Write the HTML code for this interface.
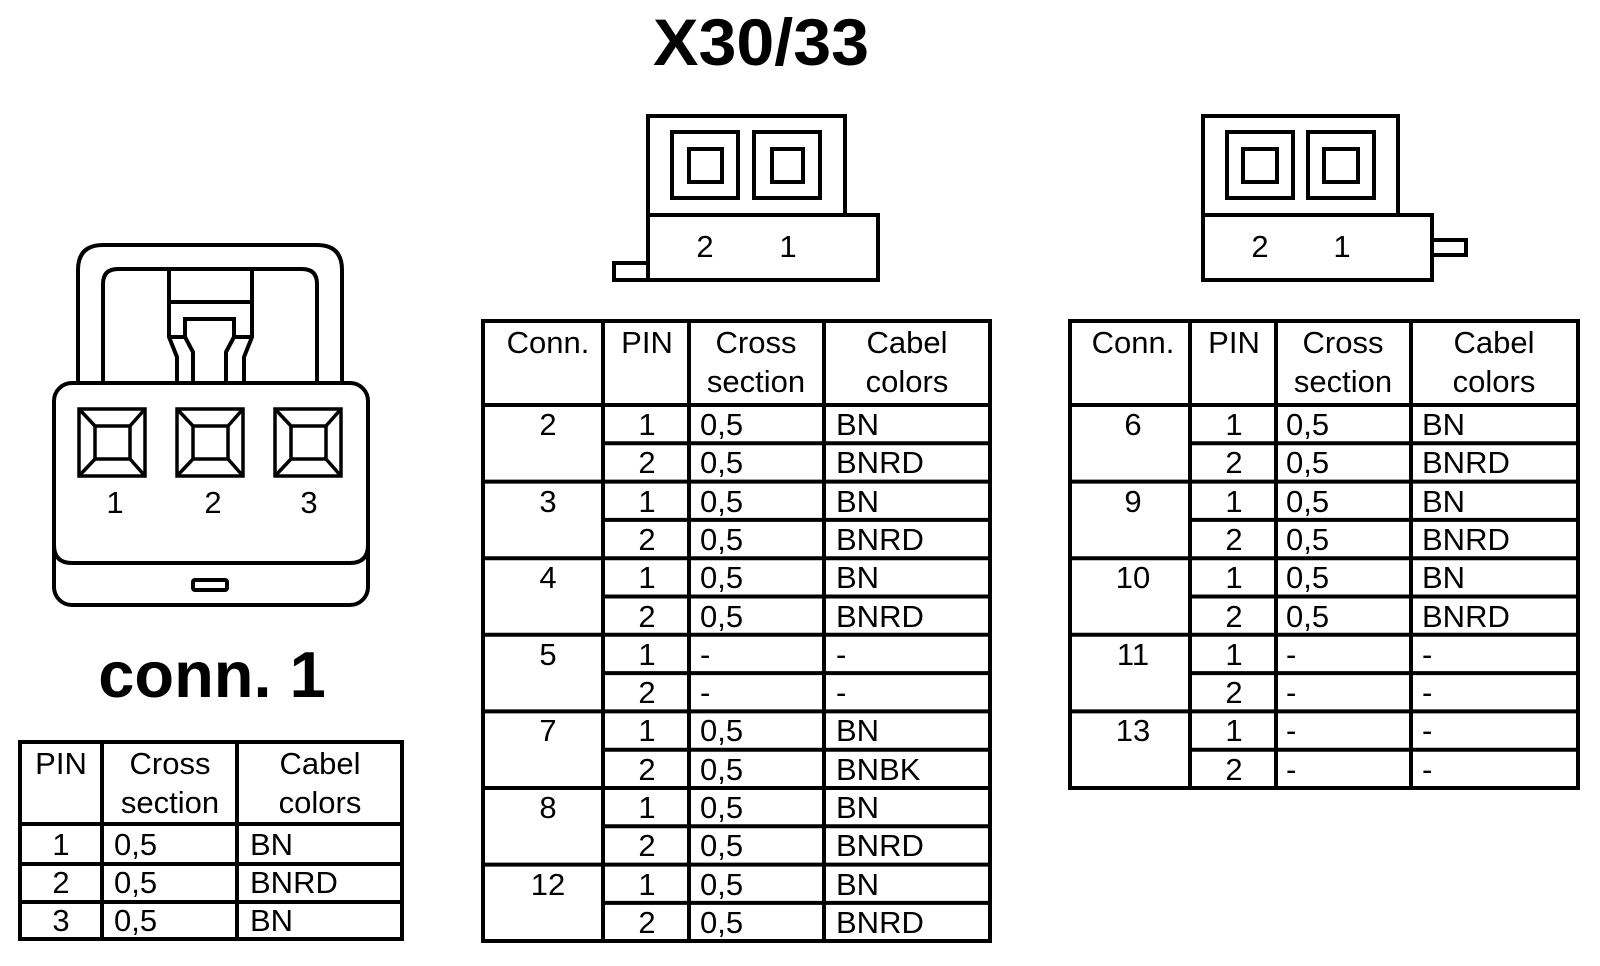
<!DOCTYPE html>
<html><head><meta charset="utf-8"><style>
html,body{margin:0;padding:0;background:#fff;}
svg{display:block;}
text{font-family:"Liberation Sans",Arial,sans-serif;fill:#000;}
.t{font-size:31px;}
.m{text-anchor:middle;}
.b{font-weight:bold;}
</style></head><body>
<svg width="1600" height="966" viewBox="0 0 1600 966" xmlns="http://www.w3.org/2000/svg">
<g fill="none" stroke="#000" stroke-width="4">
<path d="M78 383 V270 Q78 245 103 245 H317 Q342 245 342 270 V383"/>
<path d="M103 383 V284 Q103 269 118 269 H302 Q317 269 317 284 V383"/>
<path d="M169 269 V337 L177 357 V383 M252 269 V337 L244 357 V383 M169 302 H252 M169 337 H185 M234 337 H252"/>
<path d="M185 337 V319 H234 V337 M185 337 L193 352 V383 M234 337 L226 352 V383"/>
<rect x="54" y="383" width="314" height="222" rx="18"/>
<path d="M54 545 Q54 563 72 563 H350 Q368 563 368 545"/>
<rect x="193" y="580" width="34" height="10" rx="2"/>
<g stroke-width="3.5">
<rect x="79" y="409" width="66" height="67"/><rect x="95" y="426" width="35" height="33"/>
<path d="M79 409 L95 426 M145 409 L130 426 M79 476 L95 459 M145 476 L130 459"/>
<rect x="177" y="409" width="66" height="67"/><rect x="193" y="426" width="35" height="33"/>
<path d="M177 409 L193 426 M243 409 L228 426 M177 476 L193 459 M243 476 L228 459"/>
<rect x="275" y="409" width="66" height="67"/><rect x="291" y="426" width="35" height="33"/>
<path d="M275 409 L291 426 M341 409 L326 426 M275 476 L291 459 M341 476 L326 459"/>
</g>
<rect x="648" y="116" width="197" height="99"/>
<rect x="648" y="215" width="230" height="65"/>
<rect x="614" y="263" width="34" height="17"/>
<rect x="672" y="132" width="66" height="66"/><rect x="689" y="149" width="33" height="33"/>
<rect x="754" y="132" width="66" height="66"/><rect x="772" y="149" width="31" height="33"/>
<rect x="1203" y="116" width="195" height="99"/>
<rect x="1203" y="215" width="229" height="65"/>
<rect x="1432" y="240" width="34" height="15"/>
<rect x="1227" y="132" width="66" height="66"/><rect x="1243" y="149" width="34" height="33"/>
<rect x="1308" y="132" width="66" height="66"/><rect x="1324" y="149" width="34" height="33"/>

<rect x="20" y="742" width="382" height="197"/>
<path d="M102 742 V939 M237 742 V939 M20 824 H402 M20 864 H402 M20 902 H402"/>
<rect x="483" y="321" width="507" height="620"/>
<path d="M603 321 V941 M689 321 V941 M824 321 V941 M483 405 H990"/>
<path d="M603 443.3 H990 M483 481.6 H990 M603 519.9 H990 M483 558.2 H990 M603 596.5 H990 M483 634.8 H990 M603 673.1 H990 M483 711.4 H990 M603 749.7 H990 M483 788 H990 M603 826.3 H990 M483 864.6 H990 M603 902.9 H990"/>
<rect x="1070" y="321" width="508" height="467"/>
<path d="M1190 321 V788 M1276 321 V788 M1411 321 V788 M1070 405 H1578"/>
<path d="M1190 443.3 H1578 M1070 481.6 H1578 M1190 519.9 H1578 M1070 558.2 H1578 M1190 596.5 H1578 M1070 634.8 H1578 M1190 673.1 H1578 M1070 711.4 H1578 M1190 749.7 H1578"/>
</g>

<text x="761" y="65" class="b m" font-size="66" textLength="216" lengthAdjust="spacingAndGlyphs">X30/33</text>
<text x="212" y="697" class="b m" font-size="65">conn. 1</text>

<g class="t m">
<text x="115" y="513">1</text><text x="213" y="513">2</text><text x="309" y="513">3</text>
<text x="705" y="257">2</text><text x="788" y="257">1</text>
<text x="1260" y="257">2</text><text x="1342" y="257">1</text>
</g>

<g class="t">
<text x="61" y="774" class="m">PIN</text>
<text x="170" y="774" class="m">Cross</text><text x="170" y="813" class="m">section</text>
<text x="320" y="774" class="m">Cabel</text><text x="320" y="813" class="m">colors</text>
<text x="61" y="855" class="m">1</text><text x="114" y="855">0,5</text><text x="250" y="855">BN</text>
<text x="61" y="893" class="m">2</text><text x="114" y="893">0,5</text><text x="250" y="893">BNRD</text>
<text x="61" y="931" class="m">3</text><text x="114" y="931">0,5</text><text x="250" y="931">BN</text>
</g>

<g class="t">
<text x="548" y="353" class="m">Conn.</text><text x="647" y="353" class="m">PIN</text>
<text x="756" y="353" class="m">Cross</text><text x="756" y="392" class="m">section</text>
<text x="907" y="353" class="m">Cabel</text><text x="907" y="392" class="m">colors</text>
<text x="548" y="435" class="m">2</text>
<text x="647" y="435" class="m">1</text><text x="700" y="435">0,5</text><text x="836" y="435">BN</text>
<text x="647" y="473" class="m">2</text><text x="700" y="473">0,5</text><text x="836" y="473">BNRD</text>
<text x="548" y="512" class="m">3</text>
<text x="647" y="512" class="m">1</text><text x="700" y="512">0,5</text><text x="836" y="512">BN</text>
<text x="647" y="550" class="m">2</text><text x="700" y="550">0,5</text><text x="836" y="550">BNRD</text>
<text x="548" y="588" class="m">4</text>
<text x="647" y="588" class="m">1</text><text x="700" y="588">0,5</text><text x="836" y="588">BN</text>
<text x="647" y="627" class="m">2</text><text x="700" y="627">0,5</text><text x="836" y="627">BNRD</text>
<text x="548" y="665" class="m">5</text>
<text x="647" y="665" class="m">1</text><text x="700" y="665">-</text><text x="836" y="665">-</text>
<text x="647" y="703" class="m">2</text><text x="700" y="703">-</text><text x="836" y="703">-</text>
<text x="548" y="741" class="m">7</text>
<text x="647" y="741" class="m">1</text><text x="700" y="741">0,5</text><text x="836" y="741">BN</text>
<text x="647" y="780" class="m">2</text><text x="700" y="780">0,5</text><text x="836" y="780">BNBK</text>
<text x="548" y="818" class="m">8</text>
<text x="647" y="818" class="m">1</text><text x="700" y="818">0,5</text><text x="836" y="818">BN</text>
<text x="647" y="856" class="m">2</text><text x="700" y="856">0,5</text><text x="836" y="856">BNRD</text>
<text x="548" y="895" class="m">12</text>
<text x="647" y="895" class="m">1</text><text x="700" y="895">0,5</text><text x="836" y="895">BN</text>
<text x="647" y="933" class="m">2</text><text x="700" y="933">0,5</text><text x="836" y="933">BNRD</text>
</g>

<g class="t">
<text x="1133" y="353" class="m">Conn.</text><text x="1234" y="353" class="m">PIN</text>
<text x="1343" y="353" class="m">Cross</text><text x="1343" y="392" class="m">section</text>
<text x="1494" y="353" class="m">Cabel</text><text x="1494" y="392" class="m">colors</text>
<text x="1133" y="435" class="m">6</text>
<text x="1234" y="435" class="m">1</text><text x="1286" y="435">0,5</text><text x="1422" y="435">BN</text>
<text x="1234" y="473" class="m">2</text><text x="1286" y="473">0,5</text><text x="1422" y="473">BNRD</text>
<text x="1133" y="512" class="m">9</text>
<text x="1234" y="512" class="m">1</text><text x="1286" y="512">0,5</text><text x="1422" y="512">BN</text>
<text x="1234" y="550" class="m">2</text><text x="1286" y="550">0,5</text><text x="1422" y="550">BNRD</text>
<text x="1133" y="588" class="m">10</text>
<text x="1234" y="588" class="m">1</text><text x="1286" y="588">0,5</text><text x="1422" y="588">BN</text>
<text x="1234" y="627" class="m">2</text><text x="1286" y="627">0,5</text><text x="1422" y="627">BNRD</text>
<text x="1133" y="665" class="m">11</text>
<text x="1234" y="665" class="m">1</text><text x="1286" y="665">-</text><text x="1422" y="665">-</text>
<text x="1234" y="703" class="m">2</text><text x="1286" y="703">-</text><text x="1422" y="703">-</text>
<text x="1133" y="741" class="m">13</text>
<text x="1234" y="741" class="m">1</text><text x="1286" y="741">-</text><text x="1422" y="741">-</text>
<text x="1234" y="780" class="m">2</text><text x="1286" y="780">-</text><text x="1422" y="780">-</text>
</g>
</svg>
</body></html>
